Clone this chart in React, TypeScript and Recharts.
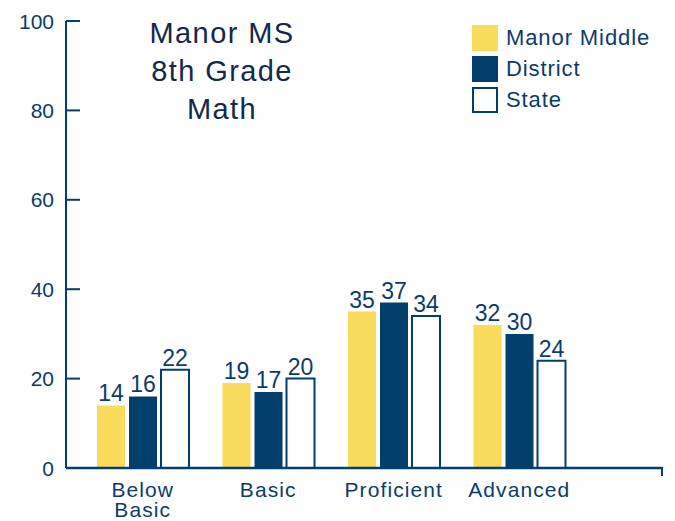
import React from "react";
import { BarChart, Bar, XAxis, YAxis, LabelList } from "recharts";

const categories = ["Below Basic", "Basic", "Proficient", "Advanced"];
const manorMiddle = [14, 19, 35, 32];
const district = [16, 17, 37, 30];
const state = [22, 20, 34, 24];
const yTicks = [0, 20, 40, 60, 80, 100];
const titleLines = ["Manor MS", "8th Grade", "Math"];

const navy = "#023f6c";
const yellow = "#f9dc5c";
const ink = "#0b3c69";
const titleInk = "#11294a";
const font = "'Liberation Sans', Arial, sans-serif";

const data = categories.map((c, i) => ({ name: c, manor: manorMiddle[i], district: district[i], state: state[i] }));

const legendItems = [
  { name: "Manor Middle", fill: yellow, stroke: "none" },
  { name: "District", fill: navy, stroke: "none" },
  { name: "State", fill: "#fff", stroke: navy },
];

const YTick = (p: any) => (
  <g>
    <line x1={p.x} x2={p.x + 14} y1={p.y} y2={p.y} stroke={navy} strokeWidth={2} />
    <text x={p.x - 12} y={p.y} dy="0.36em" textAnchor="end" fill={ink} fontSize={21} fontFamily={font}>
      {p.payload.value}
    </text>
  </g>
);

// long two-word labels go on two lines, like "Below / Basic"
const XTick = (p: any) => {
  const v: string = p.payload.value;
  const lines = v.length > 10 ? v.split(" ") : [v];
  return (
    <text x={p.x} y={p.y + 29} textAnchor="middle" fill={ink} fontSize={21} fontFamily={font}
      style={{ letterSpacing: 1.1 }}>
      {lines.map((l, i) => (
        <tspan key={i} x={p.x} dy={i === 0 ? 0 : 20}>{l}</tspan>
      ))}
    </text>
  );
};

export default function App() {
  return (
    <div style={{ position: "absolute", left: 0, top: 0, width: 675, height: 521, background: "#fff" }}>
      <BarChart width={675} height={521} data={data} margin={{ top: 21, right: 13, bottom: 0, left: 0 }}
        barSize={28} barGap={4}>
        <YAxis domain={[0, 100]} ticks={yTicks} width={66} tick={YTick} tickLine={false} tickSize={0} tickMargin={0}
          axisLine={{ stroke: navy, strokeWidth: 2 }} interval={0} />
        <XAxis dataKey="name" height={53} padding={{ left: 14, right: 80 }} tick={XTick} tickLine={false}
          tickSize={0} tickMargin={0} axisLine={{ stroke: navy, strokeWidth: 2.5 }} interval={0} />
        <Bar dataKey="manor" name="Manor Middle" fill={yellow} isAnimationActive={false}>
          <LabelList dataKey="manor" position="top" offset={4} fill={ink} fontSize={23} fontFamily={font} />
        </Bar>
        <Bar dataKey="district" name="District" fill={navy} isAnimationActive={false}>
          <LabelList dataKey="district" position="top" offset={4} fill={ink} fontSize={23} fontFamily={font} />
        </Bar>
        <Bar dataKey="state" name="State" fill="#fff" stroke={navy} strokeWidth={2} isAnimationActive={false}>
          <LabelList dataKey="state" position="top" offset={4} fill={ink} fontSize={23} fontFamily={font} />
        </Bar>
      </BarChart>
      <div style={{ position: "absolute", left: 472, top: 22, fontFamily: font }}>
        {legendItems.map((it) => (
          <div key={it.name} style={{ display: "flex", alignItems: "center", height: 31 }}>
            <svg width={26} height={26} style={{ marginRight: 8 }}>
              <rect x={it.stroke === "none" ? 0 : 1} y={it.stroke === "none" ? 0 : 1}
                width={it.stroke === "none" ? 26 : 24} height={it.stroke === "none" ? 26 : 24}
                fill={it.fill} stroke={it.stroke} strokeWidth={2} />
            </svg>
            <span style={{ color: ink, fontSize: 22, letterSpacing: 0.9 }}>{it.name}</span>
          </div>
        ))}
      </div>
      <svg width={675} height={521} style={{ position: "absolute", left: 0, top: 0, pointerEvents: "none" }}>
        {titleLines.map((t, i) => (
          <text key={t} x={222} y={43 + i * 38} textAnchor="middle" fill={titleInk} fontSize={29}
            fontFamily={font} style={{ letterSpacing: 1.4 }}>{t}</text>
        ))}
        <line x1={662} x2={662} y1={467} y2={476} stroke={navy} strokeWidth={2} />
      </svg>
    </div>
  );
}
